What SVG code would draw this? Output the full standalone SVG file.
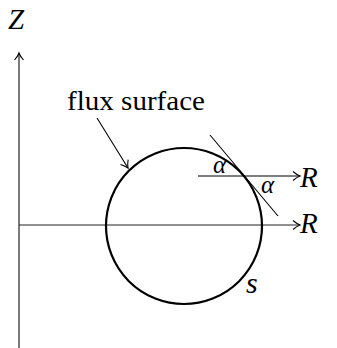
<svg xmlns="http://www.w3.org/2000/svg" width="337" height="348" viewBox="0 0 337 348">
<style>
.ax{stroke:#222;stroke-width:1.2;fill:none}
.thin{stroke:#000;stroke-width:1.1;fill:none}
.curve{stroke:#000;stroke-width:2.2;fill:none}
text{fill:#000;font-family:"Liberation Serif","Times New Roman",serif}
.lbl{font-style:italic}
</style>
<defs>
<marker id="to" markerWidth="12" markerHeight="12" refX="9" refY="6" orient="auto" markerUnits="userSpaceOnUse">
<path d="M2,1.5 Q6,5 9,6 Q6,7 2,10.5" stroke="#000" stroke-width="1.1" fill="none"/>
</marker>
</defs>
<g id="connectors">
<line class="ax" x1="19" y1="348" x2="19" y2="53" marker-end="url(#to)"/>
<line class="ax" x1="19" y1="225" x2="300" y2="225" marker-end="url(#to)"/>
<line class="thin" x1="198" y1="176" x2="300" y2="176" marker-end="url(#to)"/>
<line class="thin" x1="210" y1="135" x2="278" y2="216"/>
<line class="thin" x1="97" y1="118" x2="128" y2="168" marker-end="url(#to)"/>
</g>
<g id="flux-surface">
<circle class="curve" cx="184" cy="226" r="78"/>
</g>
<g id="labels">
<text class="lbl" x="8" y="29" font-size="29">Z</text>
<text class="lbl" x="300" y="187" font-size="29">R</text>
<text class="lbl" x="300" y="233" font-size="29">R</text>
<text class="lbl" x="213" y="173" font-size="25">α</text>
<text class="lbl" x="261" y="193" font-size="25">α</text>
<text class="lbl" x="246" y="293" font-size="30">s</text>
<text x="67" y="110" font-size="27" textLength="138" lengthAdjust="spacingAndGlyphs">flux surface</text>
</g>
</svg>
